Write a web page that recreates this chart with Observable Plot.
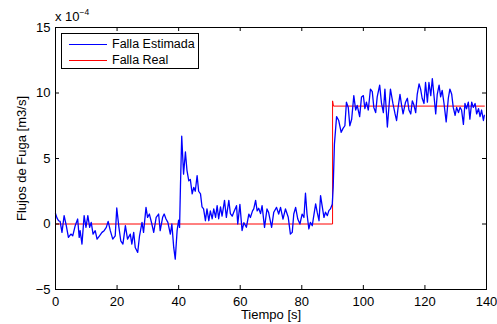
<!DOCTYPE html>
<html>
<head>
<meta charset="utf-8">
<script src="https://cdn.jsdelivr.net/npm/d3@7"></script>
<script src="https://cdn.jsdelivr.net/npm/@observablehq/plot@0.6"></script>
<style>
  html, body { margin: 0; padding: 0; background: #fff; }
  #wrap { position: relative; width: 497px; height: 324px; font-family: "Liberation Sans", Arial, sans-serif; }
  #legend { position: absolute; left: 61px; top: 33px; width: 138px; height: 36px; background: #fff; border: 1px solid #000; box-sizing: border-box; font-size: 12.5px; }
  .lg-row { position: absolute; left: 0; height: 16px; display: flex; align-items: center; }
  .lg-row span.sw { display: inline-block; width: 38px; height: 0; margin-left: 7px; margin-right: 5px; }
  #expo { position: absolute; left: 55px; top: 7px; font-size: 13px; }
  #expo sup { font-size: 8.5px; vertical-align: 6px; }
</style>
</head>
<body>
<div id="wrap"></div>
<script>
// Time (s) and estimated leak flow (x 1e-4 m3/s)
const estT = [0,0.5,1.0,1.5,2.1,2.8,3.5,4.2,5.0,5.6,6.4,7.2,7.7,8.0,8.6,9.3,9.9,10.5,11.1,11.6,12.2,12.9,13.5,14.3,15.1,15.8,16.5,17.1,17.8,18.6,19.4,19.9,20.6,21.2,21.9,22.7,23.4,24.3,24.8,25.4,25.9,26.7,27.3,28.1,28.6,29.4,29.9,30.5,31.3,31.9,32.7,33.5,34.0,34.8,35.3,35.9,36.5,37.3,37.8,38.4,38.9,39.5,40.0,40.3,40.6,41.0,41.6,42.2,42.7,43.3,43.8,44.4,44.9,45.4,46.0,46.5,47.1,47.6,48.1,48.7,49.2,49.8,50.3,50.9,51.4,52.0,52.5,53.0,53.6,54.1,54.9,55.5,56.3,56.8,57.4,57.9,58.8,59.2,59.9,60.6,61.2,62.0,62.8,63.3,64.0,64.4,65.0,65.5,66.0,66.6,67.1,67.9,68.7,69.2,70.2,70.9,71.8,72.5,73.1,73.9,74.7,75.6,76.3,76.9,77.4,78.0,78.7,79.4,80.1,80.7,81.2,81.7,82.3,82.8,83.4,83.9,84.5,85.0,85.6,86.1,86.6,87.2,87.7,88.3,88.8,89.3,89.9,90.2,90.6,91.3,92.0,92.8,93.4,94.0,94.5,95.1,95.6,96.2,96.9,97.5,98.0,98.8,99.4,100.0,100.5,101.0,101.6,102.3,102.9,103.4,104.0,104.5,105.3,105.9,106.5,107.0,107.8,108.3,108.8,109.6,110.3,110.8,111.3,111.9,112.4,112.9,113.7,114.3,114.8,115.4,115.9,116.4,117.0,117.5,118.1,118.6,119.1,119.7,120.2,120.8,121.3,121.9,122.4,122.9,123.5,124.0,124.6,125.1,125.6,126.2,126.9,127.6,128.1,128.7,129.2,129.8,130.3,130.9,131.4,131.9,132.5,133.0,133.5,134.1,134.6,135.2,135.7,136.3,136.8,137.4,137.9,138.4,139.0,139.3];
const estV = [0.8,0.45,0.25,0.2,-0.64,0.64,-0.13,-1.02,-0.77,-0.9,-0.13,0.38,-1.02,-0.5,-1.53,0.64,-0.26,0.64,-0.26,0.12,-0.77,-0.51,-1.15,-0.9,-0.64,-0.51,-0.26,0.2,-0.51,-1.15,-0.9,1.22,-0.26,-1.28,-1.53,-0.13,-1.15,-0.77,-1.53,-0.64,-1.79,-2.17,-0.9,0.12,-0.64,1.27,0.51,0.76,0,-0.64,0.51,0.76,-0.51,0.51,0.76,0.38,0.12,-0.77,0,-1.79,-2.68,-0.51,0.3,-0.26,3.0,6.7,3.8,5.5,4.1,3.3,3.4,2.3,2.8,2.5,3.7,2.5,2.3,1.3,1.15,0.25,1.15,0.25,1.0,0.4,1.15,0.5,1.4,0.4,1.3,0.6,1.8,0.5,1.8,0.8,0.6,0.9,1.4,0,1.5,-0.5,0.1,-0.25,0.76,0.5,1.0,1.15,1.8,1.0,1.2,0.8,1.4,-0.26,1.15,0.9,-0.26,0.9,1.27,0.76,1.27,0.38,1.15,0.51,-0.77,-0.64,0.76,1.27,0.38,0,0.76,0.5,2.35,0.76,-0.38,0.13,-0.13,0.64,1.53,0.9,0.25,2.17,1.4,0.5,0.9,0.64,1.02,1.15,1.5,2.8,6.1,8.2,7.9,7.0,7.3,7.5,9.3,8.9,7.5,8.0,9.8,8.7,9.05,8.2,9.7,9.8,8.8,9.3,8.7,10.3,10.1,8.9,8.5,9.7,10.6,9.2,8.5,10.3,7.4,8.9,10.3,9.2,8.4,7.9,8.9,9.9,9.1,8.4,9.3,9.6,8.7,8.4,9.4,9.1,8.5,9.9,10.7,10.3,9.6,9.2,10.8,9.3,10.8,9.8,11.1,9.9,8.4,9.9,10.6,9.7,10.2,9.2,7.8,9.6,10.3,9.9,8.9,8.3,8.9,8.5,8.9,8.7,7.6,9.2,8.8,9.3,8.0,9.3,8.9,9.2,8.4,8.8,8.2,8.7,7.9,8.3];
// Real fault (step)
const realT = [0, 90, 90, 90.3, 139.3];
const realV = [0, 0, 9.4, 9.0, 9.0];
// Axis ticks
const xTicks = [0,20,40,60,80,100,120,140];
const yTicks = [-5,0,5,10,15];
const seriesNames = ["Falla Estimada", "Falla Real"];
const seriesColors = ["#0000ff", "#ff0000"];

const est = estT.map((t, i) => ({t, v: estV[i]}));
const real = realT.map((t, i) => ({t, v: realV[i]}));

const W = 497, H = 324;
const mL = 55, mR = 11, mT = 27, mB = 35;
const tick = 4;
const fw = W - mL - mR, fh = H - mT - mB;

const chart = Plot.plot({
  width: W, height: H,
  marginLeft: mL, marginRight: mR, marginTop: mT, marginBottom: mB,
  style: {fontFamily: "'Liberation Sans', Arial, sans-serif", fontSize: "13px", color: "#000", background: "#fff"},
  x: {domain: [0, 140]},
  y: {domain: [-5, 15]},
  marks: [
    Plot.line(real, {x: "t", y: "v", stroke: seriesColors[1], strokeWidth: 1}),
    Plot.line(est, {x: "t", y: "v", stroke: seriesColors[0], strokeWidth: 1.3}),
    Plot.tickX(xTicks, {x: d => d, insetTop: fh - tick, stroke: "#000"}),
    Plot.tickX(xTicks, {x: d => d, insetBottom: fh - tick, stroke: "#000"}),
    Plot.tickY(yTicks, {y: d => d, insetRight: fw - tick, stroke: "#000"}),
    Plot.tickY(yTicks, {y: d => d, insetLeft: fw - tick, stroke: "#000"}),
    Plot.frame({stroke: "#000", strokeWidth: 1}),
    Plot.axisX({ticks: xTicks, tickSize: 0, tickPadding: 7, label: "Tiempo [s]", labelAnchor: "center", labelOffset: 29, labelArrow: "none", fontSize: 13}),
    Plot.axisY({ticks: yTicks, tickSize: 0, tickPadding: 5, label: "Flujos de Fuga [m3/s]", labelAnchor: "center", labelOffset: 39, labelArrow: "none", fontSize: 13})
  ]
});

const wrap = document.getElementById("wrap");
wrap.appendChild(chart);

const expo = document.createElement("div");
expo.id = "expo";
expo.innerHTML = "x 10<sup>\u22124</sup>";
wrap.appendChild(expo);

const legend = document.createElement("div");
legend.id = "legend";
seriesNames.forEach((name, i) => {
  const row = document.createElement("div");
  row.className = "lg-row";
  row.style.top = (2 + i * 16) + "px";
  const sw = document.createElement("span");
  sw.className = "sw";
  sw.style.borderTop = "1px solid " + seriesColors[i];
  row.appendChild(sw);
  const tx = document.createElement("span");
  tx.textContent = name;
  row.appendChild(tx);
  legend.appendChild(row);
});
wrap.appendChild(legend);
</script>
</body>
</html>
